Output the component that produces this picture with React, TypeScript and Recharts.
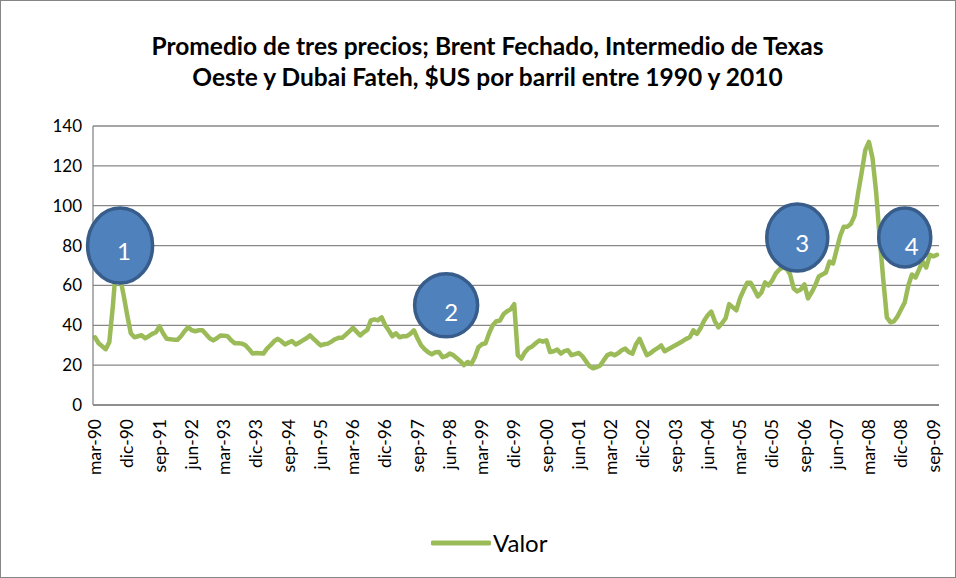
import { CartesianGrid, Legend, Line, LineChart, ReferenceDot, XAxis, YAxis } from "recharts"

// meses en castellano, serie mensual desde mar-90
const monthNames = ["ene", "feb", "mar", "abr", "may", "jun", "jul", "ago", "sep", "oct", "nov", "dic"]

// Promedio Brent / WTI / Dubai, $US por barril
const valor = [
  34, 31, 29.5, 28, 31.6, 50, 72, 64, 55, 45, 36, 34,
  34.5, 35, 33.5, 34.5, 35.7, 36.5, 39.5, 36, 33.2, 33, 32.8, 32.7,
  34.5, 37, 39, 37.5, 37, 37.5, 37.5, 35.5, 33.5, 32.4, 33.5, 34.9,
  34.8, 34.5, 32.5, 31, 31, 30.8, 30, 28, 25.8, 26.1, 26, 25.8,
  28.3, 30, 32, 33.2, 32, 30.4, 31.3, 32.1, 30.4, 31.3, 32.4, 33.5,
  34.9, 33.2, 31.5, 29.9, 30.5, 30.8, 31.8, 33, 33.7, 33.7, 35.3, 37,
  38.7, 36.8, 34.9, 36.5, 37.7, 42.5, 43, 42.5, 44, 40, 37.4, 34.5,
  36, 34, 34.5, 34.5, 35.7, 37.5, 33.5, 30, 28, 26.5, 25.5, 26.5,
  26.6, 24, 24.5, 25.8, 25, 23.5, 22, 20, 21.6, 20.5, 24, 29,
  30.5, 31, 36, 40, 42, 42.3, 45.5, 47, 48, 50.6, 25, 23.3,
  26.5, 28.5, 29.4, 31, 32.4, 31.8, 32.4, 26.6, 27, 27.8, 25.8, 27,
  27.5, 25, 25.5, 26.1, 24.5, 22, 19.5, 18.4, 19, 19.8, 22.5, 25,
  25.8, 25, 26, 27.5, 28.3, 26.5, 25.8, 30.5, 33.2, 29, 25, 26,
  27.4, 28.5, 29.9, 27, 28, 29, 30, 31, 32, 33.2, 34, 37.5,
  35.7, 38.5, 42.3, 45, 46.9, 42, 39, 41, 43.5, 50.6, 49, 47.5,
  53.5, 57.5, 61.3, 61.3, 58, 54.5, 56.5, 61.5, 60, 62.5, 66, 68,
  69, 68.5, 65.5, 58.5, 57, 58, 60.5, 53.5, 56.5, 60, 64.5, 65.5,
  66.5, 72, 71, 78, 85, 89.5, 89.5, 91, 95, 106.5, 117, 128,
  132, 124, 107, 84, 63, 44, 41.5, 42, 44.5, 48, 51.5, 60,
  65.5, 64, 68, 72, 69, 75.4, 74.6, 75.4,
]

const categories = valor.map((_, i) => {
  const m = 2 + i
  const yy = (90 + Math.floor(m / 12)) % 100
  return `${monthNames[m % 12]}-${String(yy).padStart(2, "0")}`
})

const yTicks = [0, 20, 40, 60, 80, 100, 120, 140]

// círculos numerados sobre la línea
const marks = [
  { label: "1", month: "oct-90", value: 80 },
  { label: "2", month: "may-98", value: 50 },
  { label: "3", month: "jul-06", value: 84 },
  { label: "4", month: "ene-09", value: 84 },
]
const markSize: Record<string, { rx: number; ry: number; dx: number; dy: number }> = {
  "1": { rx: 32.5, ry: 37.5, dx: 4, dy: 5 },
  "2": { rx: 31.5, ry: 31.5, dx: 5, dy: 6 },
  "3": { rx: 30.5, ry: 33.5, dx: 5, dy: 5 },
  "4": { rx: 26, ry: 29.5, dx: 7, dy: 8 },
}

const data = categories.map((mes, i) => ({ mes, valor: valor[i] }))

const FONT = "Lato, 'Open Sans', sans-serif"

function MonthTick({ x, y, payload }: any) {
  return (
    <text
      x={x}
      y={y}
      transform={`rotate(-90, ${x}, ${y})`}
      textAnchor="end"
      dx={-6}
      dy="0.35em"
      fontSize={17.5}
      fontFamily={FONT}
      fill="#000"
    >
      {payload.value}
    </text>
  )
}

function Bubble(label: string) {
  const s = markSize[label]
  return (props: any) => {
    const { cx, cy } = props
    return (
      <g>
        <ellipse cx={cx} cy={cy} rx={s.rx} ry={s.ry} fill="#4F81BD" stroke="#385D8A" strokeWidth={3.5} />
        <text
          x={cx + s.dx}
          y={cy + s.dy}
          textAnchor="middle"
          dominantBaseline="central"
          fontSize={24}
          fontFamily={FONT}
          fill="#fff"
        >
          {label}
        </text>
      </g>
    )
  }
}

function LegendContent() {
  return (
    <div style={{ position: "relative", height: 30, fontFamily: FONT }}>
      <svg width={60} height={10} style={{ position: "absolute", left: 431, top: 10 }}>
        <line x1={2} y1={5} x2={58} y2={5} stroke="#9BBB59" strokeWidth={5} strokeLinecap="round" />
      </svg>
      <span style={{ position: "absolute", left: 493, top: 0, fontSize: 24, lineHeight: "30px", color: "#000" }}>
        Valor
      </span>
    </div>
  )
}

export default function App() {
  return (
    <div style={{ position: "absolute", left: 0, top: 0, width: 956, height: 578, background: "#fff", fontFamily: FONT }}>
      <div
        style={{
          position: "absolute",
          top: 30,
          left: 19,
          width: 937,
          textAlign: "center",
          fontWeight: 700,
          fontSize: 24.5,
          lineHeight: "31px",
          color: "#000",
        }}
      >
        Promedio de tres precios; Brent Fechado, Intermedio de Texas
        <br />
        Oeste y Dubai Fateh, $US por barril entre 1990 y 2010
      </div>
      <LineChart width={956} height={578} data={data} margin={{ top: 126, right: 17, bottom: 93, left: 0 }}>
        <CartesianGrid vertical={false} stroke="#878787" strokeWidth={1.3} />
        <XAxis
          dataKey="mes"
          interval={8}
          tick={<MonthTick />}
          tickLine={false}
          axisLine={{ stroke: "#878787", strokeWidth: 1.3 }}
          height={80}
          padding={{ left: 2, right: 2 }}
        />
        <YAxis
          domain={[0, 140]}
          ticks={yTicks}
          width={93}
          tickLine={false}
          tickMargin={5}
          axisLine={{ stroke: "#878787", strokeWidth: 1.3 }}
          tick={{ fontSize: 17, fill: "#000", fontFamily: FONT }}
        />
        <Line
          type="linear"
          dataKey="valor"
          name="Valor"
          stroke="#9BBB59"
          strokeWidth={4.5}
          strokeLinejoin="round"
          strokeLinecap="round"
          dot={false}
          activeDot={false}
          isAnimationActive={false}
        />
        {marks.map((m) => (
          <ReferenceDot key={m.label} x={m.month} y={m.value} r={30} shape={Bubble(m.label)} />
        ))}
        <Legend
          layout="horizontal"
          verticalAlign="middle"
          align="center"
          wrapperStyle={{ top: 528, left: 0, width: 956, height: 30 }}
          content={<LegendContent />}
        />
      </LineChart>
      <div
        style={{
          position: "absolute",
          inset: 0,
          border: "1px solid #868686",
          pointerEvents: "none",
        }}
      />
    </div>
  )
}
